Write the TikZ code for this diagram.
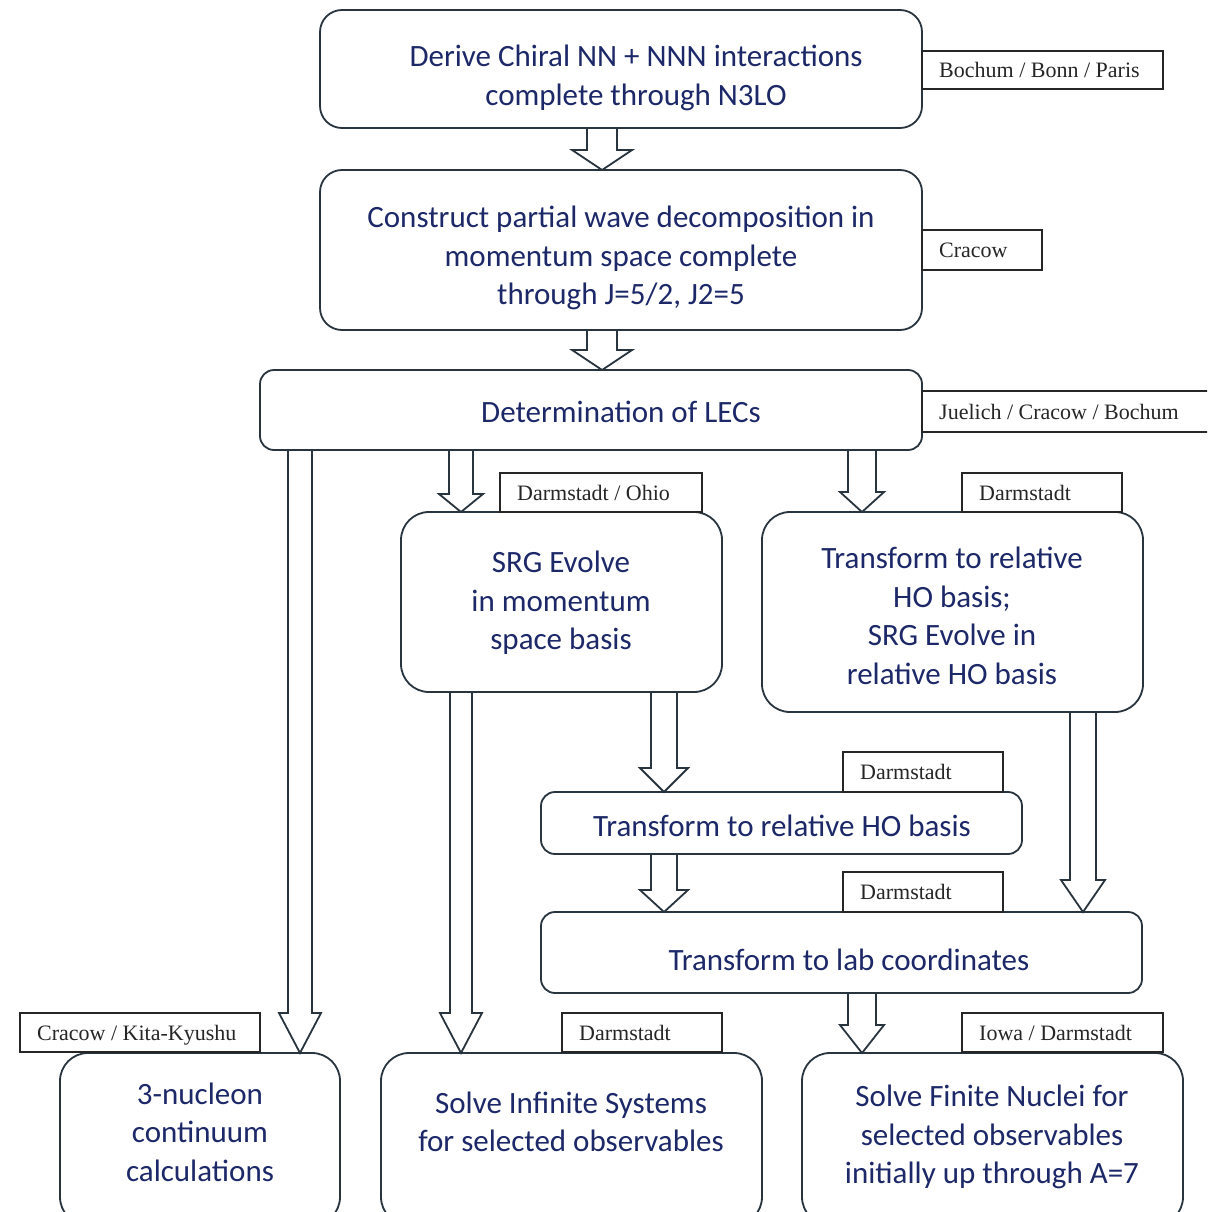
\documentclass[tikz,border=0pt]{standalone}
\usepackage{fontspec}
\setmainfont{Liberation Serif}
\newfontfamily\boxfont{Carlito}
\usetikzlibrary{calc}
\definecolor{txtblue}{RGB}{28,40,104}
\definecolor{edge}{RGB}{40,52,62}
\tikzset{
  flowbox/.style={draw=edge, line width=1.8pt, fill=white, rounded corners=#1, inner sep=0pt, outer sep=0pt},
  flowtext/.style={text=txtblue, font=\boxfont\fontsize{31}{38.5}\selectfont, align=center, inner sep=0pt},
  tagframe/.style={draw=black!85, line width=1.6pt, fill=white, inner sep=0pt, outer sep=0pt, anchor=north west},
  tagtext/.style={inner sep=0pt, font=\fontsize{22}{26}\selectfont, text=black!85, anchor=base west},
  arr/.style={draw=edge, line width=1.8pt, line join=miter},
}
% block arrow: x, from node, to node, shaft half width, head half width, head length
\newcommand\blockarrow[6]{%
  \draw[arr] let \p1=(#2.south), \p2=(#3.north) in
    (#1pt-#4pt,\y1) -- (#1pt-#4pt,\y2+#6pt) -- (#1pt-#5pt,\y2+#6pt) -- (#1pt,\y2)
    -- (#1pt+#5pt,\y2+#6pt) -- (#1pt+#4pt,\y2+#6pt) -- (#1pt+#4pt,\y1);}
% tag: name, left x, top y, width, height, text
\newcommand\tagbox[6]{%
  \node[tagframe, minimum width=#4pt, minimum height=#5pt] (#1) at (#2,#3) {};
  \node[tagtext] (#1t) at ($(#1.west)+(17,7.5)$) {#6};}
\begin{document}
\begin{tikzpicture}[x=1pt,y=-1pt]
\useasboundingbox (0,0) rectangle (1207,1212);
\clip (0,0) rectangle (1207,1212);
\fill[white] (0,0) rectangle (1207,1212);

% boxes
\node[flowbox=22pt, minimum width=602pt, minimum height=118pt] (b1) at (621,69) {};
\node[flowbox=22pt, minimum width=602pt, minimum height=160pt] (b2) at (621,250) {};
\node[flowbox=14pt, minimum width=662pt, minimum height=80pt] (b3) at (591,410) {};
\node[flowbox=28pt, minimum width=321pt, minimum height=180pt] (b4) at (561.5,602) {};
\node[flowbox=28pt, minimum width=381pt, minimum height=200pt] (b5) at (952.5,612) {};
\node[flowbox=14pt, minimum width=481pt, minimum height=62pt] (b6) at (781.5,823) {};
\node[flowbox=14pt, minimum width=601pt, minimum height=81pt] (b7) at (841.5,952.5) {};
\node[flowbox=28pt, minimum width=280pt, minimum height=172pt] (b8) at (200,1139) {};
\node[flowbox=28pt, minimum width=381pt, minimum height=172pt] (b9) at (571.5,1139) {};
\node[flowbox=28pt, minimum width=381pt, minimum height=172pt] (b10) at (992.5,1139) {};

% texts
\node[flowtext] (t1) at (636,78) {Derive Chiral NN + NNN interactions\\complete through N3LO};
\node[flowtext] (t2) at (621,258) {Construct partial wave decomposition in\\momentum space complete\\through J=5/2, J2=5};
\node[flowtext] (t3) at (621,412) {Determination of LECs};
\node[flowtext] (t4) at (561,603) {SRG Evolve\\in momentum\\space basis};
\node[flowtext] (t5) at (952,616) {Transform to relative\\HO basis;\\SRG Evolve in\\relative HO basis};
\node[flowtext] (t6) at (782,826) {Transform to relative HO basis};
\node[flowtext] (t7) at (849,960) {Transform to lab coordinates};
\node[flowtext] (t8) at (200,1132) {3-nucleon\\continuum\\calculations};
\node[flowtext] (t9) at (571,1122) {Solve Infinite Systems\\for selected observables};
\node[flowtext] (t10) at (992,1137) {Solve Finite Nuclei for\\selected observables\\initially up through A=7};

% tags
\tagbox{l1}{922}{51}{241}{38}{Bochum / Bonn / Paris}
\tagbox{l2}{922}{230}{120}{40}{Cracow}
\tagbox{l3}{922}{391}{300}{41}{Juelich / Cracow / Bochum}
\tagbox{l4}{500}{473}{202}{39}{Darmstadt / Ohio}
\tagbox{l5}{962}{473}{160}{39}{Darmstadt}
\tagbox{l6}{843}{752}{160}{40}{Darmstadt}
\tagbox{l7}{843}{872}{160}{40}{Darmstadt}
\tagbox{l8}{20}{1013}{240}{39}{Cracow / Kita-Kyushu}
\tagbox{l9}{562}{1013}{160}{39}{Darmstadt}
\tagbox{l10}{962}{1013}{201}{39}{Iowa / Darmstadt}

% arrows
\blockarrow{602}{b1}{b2}{15}{30}{20}
\blockarrow{602}{b2}{b3}{15}{30}{20}
\blockarrow{461}{b3}{b4}{12}{22}{18}
\blockarrow{862}{b3}{b5}{14}{22}{20}
\blockarrow{300}{b3}{b8}{12}{21}{40}
\blockarrow{461}{b4}{b9}{11}{21}{40}
\blockarrow{664}{b4}{b6}{13}{24}{24}
\blockarrow{664}{b6}{b7}{13}{24}{22}
\blockarrow{1083}{b5}{b7}{13}{22}{32}
\blockarrow{862}{b7}{b10}{14}{22}{28}
\end{tikzpicture}
\end{document}
